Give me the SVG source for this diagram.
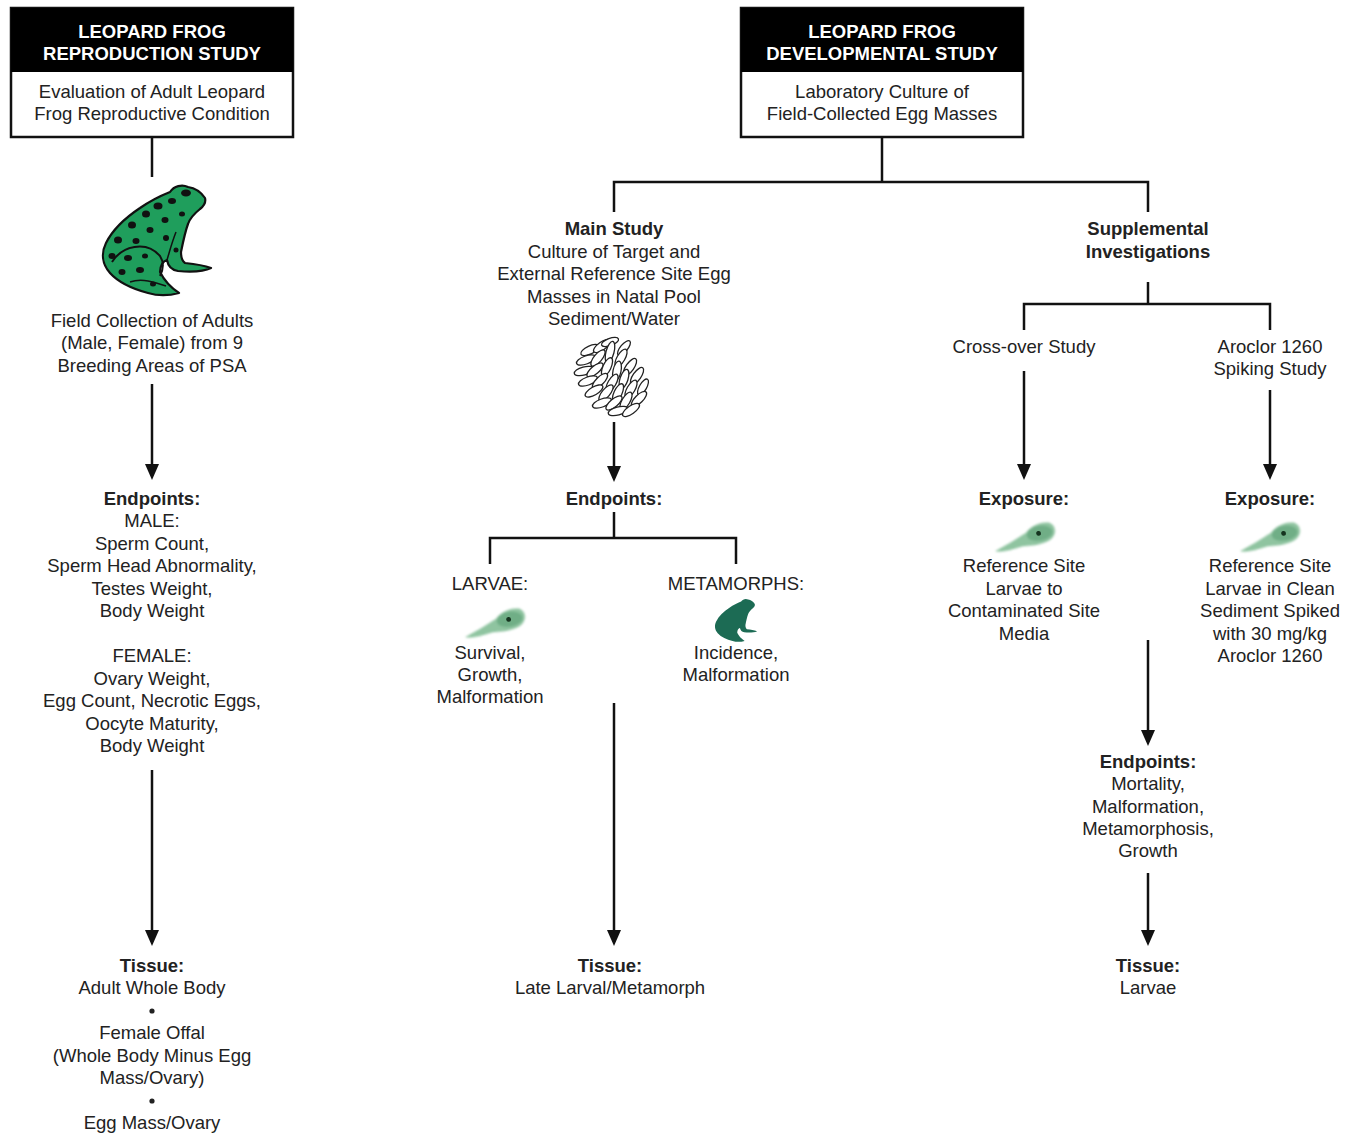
<svg xmlns="http://www.w3.org/2000/svg" width="1349" height="1134" viewBox="0 0 1349 1134">
  <style>
    text { font-family: "Liberation Sans", Arial, sans-serif; font-size: 18.5px; fill: #222; text-anchor: middle; }
    .b { font-weight: bold; }
    .hd { font-weight: bold; fill: #fff; }
    .box { fill: #fff; stroke: #111; stroke-width: 2.5; }
    .band { fill: #000; }
    .ln { stroke: #111; stroke-width: 2.5; fill: none; }
    .ar { stroke: #111; stroke-width: 2.5; fill: none; marker-end: url(#arrow); }
    .egg { fill: #fff; stroke: #222; stroke-width: 1.3; }
    .tad { fill: #8fc4a0; }
    .tadh { fill: #6fae86; }
  </style>
  <defs>
    <marker id="arrow" viewBox="0 0 16 14" refX="12" refY="7" markerWidth="16" markerHeight="14" markerUnits="userSpaceOnUse" orient="auto">
      <path d="M0,0 L16,7 L0,14 Z" fill="#111"/>
    </marker>
    <filter id="soft" x="-20%" y="-50%" width="140%" height="200%">
      <feGaussianBlur stdDeviation="1.3"/>
    </filter>
    <!-- sitting frog silhouette, facing right -->
    <path id="frog-body" d="M170,192 C174,186 182,184 188,187 C195,188 201,192 205,198 C206,202 204,206 200,209 C195,213 190,218 188,224 C185,232 183,242 181,252 C181,257 182,261 185,263 C195,264 203,265 211,268 C203,272 190,272 178,271 C172,270 168,266 167,260 C163,261 160,266 160,272 C164,280 170,287 179,293 C168,296 158,296 148,293 C133,289 119,283 110,273 C102,264 101,253 106,243 C113,229 125,218 140,208 C150,201 160,196 170,192 Z"/>
    <!-- tadpole glyph, head at the right -->
    <g id="tadpole">
      <g filter="url(#soft)">
        <path class="tad" d="M-31,9 C-20,5 -8,1 3,-4 C8,-9 18,-12 27,-10 C34,-6 33,3 26,7 C17,11 6,10 -3,9 C-13,10 -23,12 -31,9 Z"/>
        <ellipse class="tadh" cx="16" cy="-1" rx="13" ry="7.5"/>
      </g>
      <circle cx="15" cy="-1" r="2.4" fill="#15331f"/>
    </g>
  </defs>

  <!-- connectors -->
  <g id="connectors">
    <!-- reproduction column -->
    <line class="ln" x1="152" y1="137" x2="152" y2="177"/>
    <line class="ar" x1="152" y1="384" x2="152" y2="476"/>
    <line class="ar" x1="152" y1="770" x2="152" y2="942"/>
    <!-- developmental split -->
    <polyline class="ln" points="882,137 882,182"/>
    <polyline class="ln" points="614,212 614,182 1148,182 1148,212"/>
    <!-- main study -->
    <line class="ar" x1="614" y1="422" x2="614" y2="478"/>
    <line class="ln" x1="614" y1="512" x2="614" y2="538"/>
    <polyline class="ln" points="490,564 490,538 736,538 736,564"/>
    <line class="ar" x1="614" y1="703" x2="614" y2="942"/>
    <!-- supplemental -->
    <line class="ln" x1="1148" y1="282" x2="1148" y2="304"/>
    <polyline class="ln" points="1024,330 1024,304 1270,304 1270,330"/>
    <line class="ar" x1="1024" y1="371" x2="1024" y2="476"/>
    <line class="ar" x1="1270" y1="390" x2="1270" y2="476"/>
    <line class="ar" x1="1148" y1="640" x2="1148" y2="742"/>
    <line class="ar" x1="1148" y1="873" x2="1148" y2="942"/>
  </g>

  <!-- reproduction study header -->
  <g id="repro-header">
    <rect class="box" x="11" y="8" width="282" height="129"/>
    <rect class="band" x="11" y="8" width="282" height="64"/>
    <text class="hd" x="152" y="38">LEOPARD FROG</text>
    <text class="hd" x="152" y="60">REPRODUCTION STUDY</text>
    <text x="152" y="98">Evaluation of Adult Leopard</text>
    <text x="152" y="120">Frog Reproductive Condition</text>
  </g>

  <!-- adult leopard frog -->
  <g id="adult-frog">
    <use href="#frog-body" fill="#1f9e5c" stroke="#111" stroke-width="2.2" stroke-linejoin="round"/>
    <path d="M112,262 C122,246 146,240 160,256 C164,262 163,270 160,276" fill="none" stroke="#111" stroke-width="2"/>
    <path d="M130,282 C142,278 154,282 166,286" fill="none" stroke="#111" stroke-width="1.5"/>
    <path d="M176,232 C172,242 170,250 167,260" fill="none" stroke="#111" stroke-width="1.5"/>
    <g fill="#111">
      <ellipse cx="186" cy="193" rx="5" ry="3.5"/>
      <ellipse cx="172" cy="201" rx="4" ry="3"/>
      <ellipse cx="158" cy="206" rx="4.5" ry="3.5"/>
      <ellipse cx="182" cy="214" rx="3" ry="2.5"/>
      <ellipse cx="146" cy="214" rx="4" ry="3.5"/>
      <ellipse cx="165" cy="220" rx="3.5" ry="3"/>
      <ellipse cx="132" cy="225" rx="4" ry="3.5"/>
      <ellipse cx="150" cy="230" rx="3.5" ry="3"/>
      <ellipse cx="166" cy="238" rx="3" ry="3"/>
      <ellipse cx="118" cy="240" rx="4" ry="3.5"/>
      <ellipse cx="136" cy="241" rx="3.5" ry="3"/>
      <ellipse cx="112" cy="256" rx="3.5" ry="3"/>
      <ellipse cx="128" cy="258" rx="4" ry="3"/>
      <ellipse cx="145" cy="256" rx="3" ry="2.5"/>
      <ellipse cx="122" cy="272" rx="3.5" ry="3"/>
      <ellipse cx="140" cy="270" rx="4" ry="3"/>
      <ellipse cx="153" cy="284" rx="3" ry="2.5"/>
      <ellipse cx="176" cy="250" rx="2.5" ry="2.5"/>
    </g>
  </g>

  <g id="field-collection">
    <text x="152" y="327">Field Collection of Adults</text>
    <text x="152" y="349">(Male, Female) from 9</text>
    <text x="152" y="372">Breeding Areas of PSA</text>
  </g>

  <g id="repro-endpoints">
    <text class="b" x="152" y="505">Endpoints:</text>
    <text x="152" y="527">MALE:</text>
    <text x="152" y="550">Sperm Count,</text>
    <text x="152" y="572">Sperm Head Abnormality,</text>
    <text x="152" y="595">Testes Weight,</text>
    <text x="152" y="617">Body Weight</text>
    <text x="152" y="662">FEMALE:</text>
    <text x="152" y="685">Ovary Weight,</text>
    <text x="152" y="707">Egg Count, Necrotic Eggs,</text>
    <text x="152" y="730">Oocyte Maturity,</text>
    <text x="152" y="752">Body Weight</text>
  </g>

  <g id="repro-tissue">
    <text class="b" x="152" y="972">Tissue:</text>
    <text x="152" y="994">Adult Whole Body</text>
    <circle cx="152" cy="1011" r="2.6" fill="#222"/>
    <text x="152" y="1039">Female Offal</text>
    <text x="152" y="1062">(Whole Body Minus Egg</text>
    <text x="152" y="1084">Mass/Ovary)</text>
    <circle cx="152" cy="1101" r="2.6" fill="#222"/>
    <text x="152" y="1129">Egg Mass/Ovary</text>
  </g>

  <!-- developmental study header -->
  <g id="dev-header">
    <rect class="box" x="741" y="8" width="282" height="129"/>
    <rect class="band" x="741" y="8" width="282" height="64"/>
    <text class="hd" x="882" y="38">LEOPARD FROG</text>
    <text class="hd" x="882" y="60">DEVELOPMENTAL STUDY</text>
    <text x="882" y="98">Laboratory Culture of</text>
    <text x="882" y="120">Field-Collected Egg Masses</text>
  </g>

  <g id="main-study">
    <text class="b" x="614" y="235">Main Study</text>
    <text x="614" y="258">Culture of Target and</text>
    <text x="614" y="280">External Reference Site Egg</text>
    <text x="614" y="303">Masses in Natal Pool</text>
    <text x="614" y="325">Sediment/Water</text>
  </g>

  <!-- egg mass -->
  <g id="egg-mass">
    <g transform="translate(614,376)">
      <ellipse class="egg" cx="-24" cy="-26" rx="10" ry="4" transform="rotate(-25 -24 -26)"/>
      <ellipse class="egg" cx="-12" cy="-30" rx="10" ry="4" transform="rotate(-35 -12 -30)"/>
      <ellipse class="egg" cx="-4" cy="-34" rx="9" ry="3.6" transform="rotate(-20 -4 -34)"/>
      <ellipse class="egg" cx="-4" cy="-24" rx="11" ry="4" transform="rotate(-75 -4 -24)"/>
      <ellipse class="egg" cx="10" cy="-28" rx="9" ry="3.6" transform="rotate(-50 10 -28)"/>
      <ellipse class="egg" cx="-28" cy="-16" rx="10" ry="4" transform="rotate(-20 -28 -16)"/>
      <ellipse class="egg" cx="-16" cy="-18" rx="10" ry="4" transform="rotate(-50 -16 -18)"/>
      <ellipse class="egg" cx="7" cy="-18" rx="10" ry="4" transform="rotate(-60 7 -18)"/>
      <ellipse class="egg" cx="-30" cy="-5" rx="10" ry="4" transform="rotate(-15 -30 -5)"/>
      <ellipse class="egg" cx="-19" cy="-6" rx="10" ry="4" transform="rotate(-40 -19 -6)"/>
      <ellipse class="egg" cx="-7" cy="-9" rx="10" ry="4" transform="rotate(-65 -7 -9)"/>
      <ellipse class="egg" cx="16" cy="-9" rx="10" ry="4" transform="rotate(-55 16 -9)"/>
      <ellipse class="egg" cx="3" cy="-5" rx="10" ry="4" transform="rotate(-78 3 -5)"/>
      <ellipse class="egg" cx="-26" cy="5" rx="10" ry="4" transform="rotate(-20 -26 5)"/>
      <ellipse class="egg" cx="-14" cy="5" rx="10" ry="4" transform="rotate(-45 -14 5)"/>
      <ellipse class="egg" cx="-2" cy="7" rx="10" ry="4" transform="rotate(-60 -2 7)"/>
      <ellipse class="egg" cx="10" cy="3" rx="10" ry="4" transform="rotate(-72 10 3)"/>
      <ellipse class="egg" cx="23" cy="0" rx="10" ry="4" transform="rotate(-55 23 0)"/>
      <ellipse class="egg" cx="-20" cy="15" rx="10" ry="4" transform="rotate(-30 -20 15)"/>
      <ellipse class="egg" cx="-8" cy="17" rx="10" ry="4" transform="rotate(-50 -8 17)"/>
      <ellipse class="egg" cx="4" cy="17" rx="10" ry="4" transform="rotate(-65 4 17)"/>
      <ellipse class="egg" cx="17" cy="13" rx="10" ry="4" transform="rotate(-60 17 13)"/>
      <ellipse class="egg" cx="29" cy="11" rx="9" ry="3.6" transform="rotate(-60 29 11)"/>
      <ellipse class="egg" cx="-12" cy="27" rx="10" ry="4" transform="rotate(-20 -12 27)"/>
      <ellipse class="egg" cx="0" cy="27" rx="10" ry="4" transform="rotate(-40 0 27)"/>
      <ellipse class="egg" cx="12" cy="25" rx="10" ry="4" transform="rotate(-60 12 25)"/>
      <ellipse class="egg" cx="25" cy="23" rx="10" ry="4" transform="rotate(-45 25 23)"/>
      <ellipse class="egg" cx="4" cy="35" rx="10" ry="4" transform="rotate(-15 4 35)"/>
      <ellipse class="egg" cx="17" cy="34" rx="10" ry="4" transform="rotate(-35 17 34)"/>
    </g>
  </g>

  <g id="main-endpoints">
    <text class="b" x="614" y="505">Endpoints:</text>
  </g>

  <g id="larvae">
    <text x="490" y="590">LARVAE:</text>
    <use href="#tadpole" transform="translate(494,623) rotate(-10)"/>
    <text x="490" y="659">Survival,</text>
    <text x="490" y="681">Growth,</text>
    <text x="490" y="703">Malformation</text>
  </g>

  <g id="metamorphs">
    <text x="736" y="590">METAMORPHS:</text>
    <use href="#frog-body" fill="#1c6b54" transform="translate(715,600) scale(0.39) translate(-103,-188)"/>
    <text x="736" y="659">Incidence,</text>
    <text x="736" y="681">Malformation</text>
  </g>

  <g id="main-tissue">
    <text class="b" x="610" y="972">Tissue:</text>
    <text x="610" y="994">Late Larval/Metamorph</text>
  </g>

  <g id="supplemental">
    <text class="b" x="1148" y="235">Supplemental</text>
    <text class="b" x="1148" y="258">Investigations</text>
  </g>

  <g id="crossover">
    <text x="1024" y="353">Cross-over Study</text>
    <text class="b" x="1024" y="505">Exposure:</text>
    <use href="#tadpole" transform="translate(1024,537) rotate(-10)"/>
    <text x="1024" y="572">Reference Site</text>
    <text x="1024" y="595">Larvae to</text>
    <text x="1024" y="617">Contaminated Site</text>
    <text x="1024" y="640">Media</text>
  </g>

  <g id="spiking">
    <text x="1270" y="353">Aroclor 1260</text>
    <text x="1270" y="375">Spiking Study</text>
    <text class="b" x="1270" y="505">Exposure:</text>
    <use href="#tadpole" transform="translate(1269,537) rotate(-10)"/>
    <text x="1270" y="572">Reference Site</text>
    <text x="1270" y="595">Larvae in Clean</text>
    <text x="1270" y="617">Sediment Spiked</text>
    <text x="1270" y="640">with 30 mg/kg</text>
    <text x="1270" y="662">Aroclor 1260</text>
  </g>

  <g id="supp-endpoints">
    <text class="b" x="1148" y="768">Endpoints:</text>
    <text x="1148" y="790">Mortality,</text>
    <text x="1148" y="813">Malformation,</text>
    <text x="1148" y="835">Metamorphosis,</text>
    <text x="1148" y="857">Growth</text>
  </g>

  <g id="supp-tissue">
    <text class="b" x="1148" y="972">Tissue:</text>
    <text x="1148" y="994">Larvae</text>
  </g>
</svg>
